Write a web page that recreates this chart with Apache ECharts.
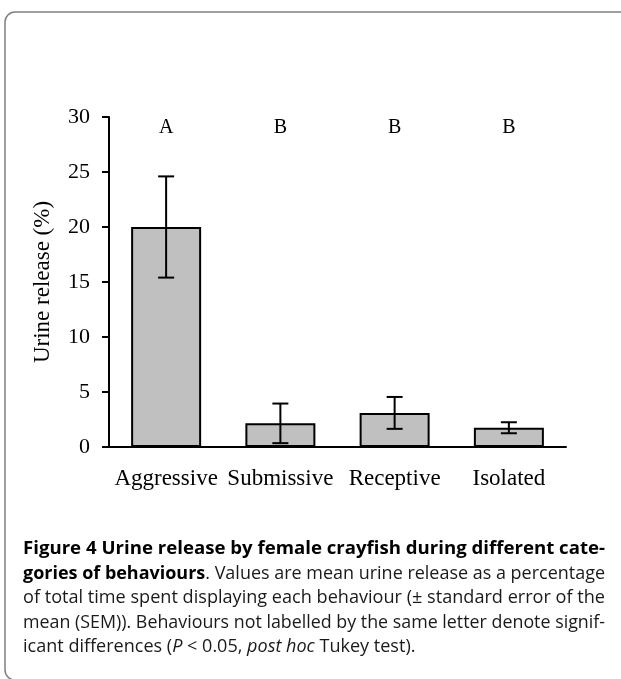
<!DOCTYPE html>
<html>
<head>
<meta charset="utf-8">
<script src="https://cdn.jsdelivr.net/npm/echarts@6/dist/echarts.min.js"></script>
<style>
  html, body { margin: 0; padding: 0; background: #fff; }
  #chart { width: 621px; height: 679px; }
</style>
</head>
<body>
<div id="chart"></div>
<script>
// ---- data ----
const categories = ['Aggressive', 'Submissive', 'Receptive', 'Isolated'];
const means = [20.0, 2.15, 3.1, 1.75];
const sems = [4.6, 1.8, 1.45, 0.5];
const letters = ['A', 'B', 'B', 'B'];
const letterLevel = 29;
const yTicks = { min: 0, max: 30, interval: 5 };

// ---- caption (text) ----
const captionLines = [
  [{ t: 'Figure 4 Urine release by female crayfish during different cate-', w: 'bold' }],
  [{ t: 'gories of behaviours', w: 'bold' }, { t: '. Values are mean urine release as a percentage' }],
  [{ t: 'of total time spent displaying each behaviour (\u00b1 standard error of the' }],
  [{ t: 'mean (SEM)). Behaviours not labelled by the same letter denote signif-' }],
  [{ t: 'icant differences (' }, { t: 'P', i: true }, { t: ' < 0.05, ' }, { t: 'post hoc', i: true }, { t: ' Tukey test).' }]
];

const capFamily = '"Open Sans", "Noto Sans", sans-serif';
const capSize = 18;
const capLeft = 23;
const capRight = 605;
const capBaselines = [555, 579.5, 604, 628.5, 653];

const cvs = document.createElement('canvas');
const ctx = cvs.getContext('2d');
function fontStr(seg) {
  return (seg.i ? 'italic ' : 'normal ') + (seg.w === 'bold' ? 'bold ' : 'normal ') + capSize + 'px ' + capFamily;
}
const measured = captionLines.map(line => {
  let x = 0;
  const parts = line.map(seg => {
    ctx.font = fontStr(seg);
    const w = ctx.measureText(seg.t).width;
    const p = { seg, x };
    x += w;
    return p;
  });
  return { parts, width: x };
});
const target = capRight - capLeft;
const scales = measured.map(m => target / m.width);
const justScales = scales.slice(0, 4).sort((a, b) => a - b);
const medScale = (justScales[1] + justScales[2]) / 2;

const captionGraphics = measured.map((m, li) => ({
  type: 'group',
  x: capLeft,
  y: capBaselines[li] - 0.33 * capSize,
  scaleX: li < 4 ? scales[li] : medScale,
  children: m.parts.map(p => ({
    type: 'text',
    x: p.x,
    y: 0,
    style: {
      text: p.seg.t,
      fontFamily: capFamily,
      fontSize: capSize,
      fontWeight: p.seg.w === 'bold' ? 'bold' : 'normal',
      fontStyle: p.seg.i ? 'italic' : 'normal',
      fill: p.seg.w === 'bold' ? '#000' : '#1a1a1a',
      verticalAlign: 'middle',
      align: 'left'
    }
  }))
}));

const serif = '"Liberation Serif", "Times New Roman", serif';

const chart = echarts.init(document.getElementById('chart'), null, { renderer: 'canvas' });
chart.setOption({
  animation: false,
  backgroundColor: '#fff',
  grid: { left: 109, right: 55, top: 117, bottom: 232 },
  xAxis: {
    type: 'category',
    data: categories,
    axisLine: { lineStyle: { color: '#000', width: 2 } },
    axisTick: { alignWithLabel: true, length: 7, lineStyle: { color: '#000', width: 2 } },
    axisLabel: { color: '#000', fontFamily: serif, fontSize: 23, margin: 20, interval: 0 }
  },
  yAxis: {
    type: 'value',
    min: yTicks.min, max: yTicks.max, interval: yTicks.interval,
    name: 'Urine release (%)',
    nameLocation: 'middle',
    nameGap: 55,
    nameTextStyle: { color: '#000', fontFamily: serif, fontSize: 23 },
    splitLine: { show: false },
    axisLine: { show: true, lineStyle: { color: '#000', width: 2 } },
    axisTick: { show: true, length: 7, lineStyle: { color: '#000', width: 2 } },
    axisLabel: { color: '#000', fontFamily: serif, fontSize: 22, margin: 19 }
  },
  series: [
    {
      type: 'bar',
      data: means,
      barWidth: 70,
      itemStyle: { color: '#c0c0c0', borderColor: '#000', borderWidth: 2 },
      z: 2
    },
    {
      type: 'custom',
      data: categories.map((c, i) => [i, means[i] - sems[i], means[i] + sems[i]]),
      encode: { x: 0, y: [1, 2] },
      z: 3,
      renderItem: function (params, api) {
        const i = api.value(0);
        const lo = api.coord([i, api.value(1)]);
        const hi = api.coord([i, api.value(2)]);
        const h = 8;
        const st = { stroke: '#000', lineWidth: 2 };
        return {
          type: 'group',
          children: [
            { type: 'line', shape: { x1: lo[0], y1: lo[1], x2: hi[0], y2: hi[1] }, style: st },
            { type: 'line', shape: { x1: hi[0] - h, y1: hi[1], x2: hi[0] + h, y2: hi[1] }, style: st },
            { type: 'line', shape: { x1: lo[0] - h, y1: lo[1], x2: lo[0] + h, y2: lo[1] }, style: st }
          ]
        };
      }
    },
    {
      type: 'custom',
      data: categories.map((c, i) => [i, letterLevel]),
      encode: { x: 0, y: 1 },
      z: 3,
      renderItem: function (params, api) {
        const p = api.coord([api.value(0), api.value(1)]);
        return {
          type: 'text',
          x: p[0], y: p[1],
          style: {
            text: letters[params.dataIndex],
            fontFamily: serif, fontSize: 20, fill: '#000',
            align: 'center', verticalAlign: 'middle'
          }
        };
      }
    }
  ],
  graphic: [
    {
      type: 'rect',
      shape: { x: 5, y: 12, width: 700, height: 668, r: 10 },
      style: { fill: 'none', stroke: '#808080', lineWidth: 1.5 },
      silent: true
    }
  ].concat(captionGraphics)
});
</script>
</body>
</html>
